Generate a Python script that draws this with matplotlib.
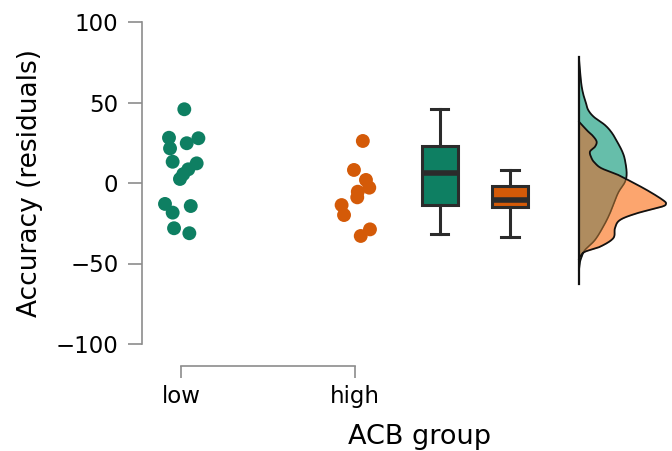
import numpy as np
import matplotlib
matplotlib.use("Agg")
import matplotlib.pyplot as plt

plt.rcParams['font.family'] = ['DejaVu Sans']

# ---- data ----
groups = ["low", "high"]
low_vals = [45.8, 28.1, 21.5, 24.7, 27.8, 13.2, 12.2, 8.5, 5.5, 2.5,
            -13.0, -18.4, -14.3, -28.1, -31.2]
high_vals = [26.1, 8.1, 1.9, -2.9, -5.4, -8.9, -13.7, -19.9, -28.8, -32.9]
# horizontal jitter (category units)
low_jitter = [0.019, -0.069, -0.063, 0.033, 0.100, -0.048, 0.090, 0.042,
              0.013, -0.006, -0.092, -0.048, 0.056, -0.040, 0.048]
high_jitter = [0.045, -0.006, 0.063, 0.082, 0.016, 0.013, -0.077, -0.063,
               0.086, 0.033]
# box statistics (whislo, q1, med, q3, whishi)
low_box = [-31.7, -13.7, 6.0, 23.0, 45.8]
high_box = [-33.3, -15.1, -10.6, -1.9, 8.1]
yticks = [-100, -50, 0, 50, 100]

# density profiles (value, relative density)
low_dens_v = [77.5, 70.2, 60.9, 54.7, 49.7, 45.3, 41.0, 36.0, 31.1, 24.8, 19.3,
              14.3, 6.2, 0.6, -6.4, -18.8, -27.1, -35.4, -41.6, -45.3, -49.1, -54.0]
low_dens_d = [0, 1, 2.5, 4.5, 7, 9.3, 15, 26, 33, 39, 43.5,
              46, 47.7, 46, 39, 31, 24.3, 16, 6, 3, 1, 0]
high_dens_v = [38.1, 35.4, 31.9, 29.2, 25.7, 22.5, 19.4, 15.3, 12.4, 9.1, 5.0, 2.9,
               -4.3, -10.6, -13.0, -14.9, -18.8, -23.0, -28.1, -34.3, -39.6, -42.7,
               -45.8, -47.2]
high_dens_d = [0, 4, 9.3, 14, 17.7, 16, 11, 12.7, 16, 22.7, 39.3, 46,
               67.7, 84, 87, 82, 58, 41, 36, 34.3, 21, 6,
               1, 0]

# ---- style ----
green = "#0E7F62"
orange = "#D45A08"
green_fill = "#66BEAA"
orange_fill = "#FCA56E"
overlap_fill = "#AF8C5F"
spine_col = "#8C8C8C"
box_edge = "#2B2B2B"

fig = plt.figure(figsize=(6.72, 4.51), dpi=100)
ax = fig.add_axes([142/672, 1-344/451, 1-142/672, (344-22)/451])

x_low, x_high = 1.0, 2.0
ax.scatter(x_low + np.array(low_jitter), low_vals, s=100, color=green,
           edgecolor='none', zorder=3, clip_on=False)
ax.scatter(x_high + np.array(high_jitter), high_vals, s=100, color=orange,
           edgecolor='none', zorder=3, clip_on=False)

# boxplots
def stats(b):
    return dict(whislo=b[0], q1=b[1], med=b[2], q3=b[3], whishi=b[4], fliers=[])

box_pos = [2.487, 2.89]
bp = ax.bxp([stats(low_box), stats(high_box)], positions=box_pos, widths=0.207,
            patch_artist=True, showfliers=False, capwidths=0.1,
            boxprops=dict(edgecolor=box_edge, linewidth=2.2),
            whiskerprops=dict(color=box_edge, linewidth=2.2),
            capprops=dict(color=box_edge, linewidth=2.2),
            medianprops=dict(color=box_edge, linewidth=4.0, solid_capstyle='butt'))
for patch, c in zip(bp['boxes'], [green, orange]):
    patch.set_facecolor(c)
for m in bp['medians']:
    m.set_zorder(4)

# densities (smoothed through the read points)
def smooth(v, d, n=16):
    P = np.column_stack([v, d]).astype(float)
    P = np.vstack([P[0], P, P[-1]])
    out = []
    t = np.linspace(0, 1, n, endpoint=False)[:, None]
    for i in range(1, len(P) - 2):
        p0, p1, p2, p3 = P[i - 1], P[i], P[i + 1], P[i + 2]
        seg = 0.5 * (2 * p1 + (-p0 + p2) * t + (2 * p0 - 5 * p1 + 4 * p2 - p3) * t ** 2
                     + (-p0 + 3 * p1 - 3 * p2 + p3) * t ** 3)
        out.append(seg)
    out.append(P[-2][None, :])
    out = np.vstack(out)
    out[:, 1] = np.clip(out[:, 1], 0, None)
    return out[:, 0], out[:, 1]

x0 = 3.287
px = 1 / 174.0
lv, ld = smooth(low_dens_v, low_dens_d)
hv, hd = smooth(high_dens_v, high_dens_d)
grid = np.linspace(-63, 78, 1500)
ol = np.argsort(lv)
oh = np.argsort(hv)
wl = np.interp(grid, lv[ol], ld[ol], left=0, right=0) * px
wh = np.interp(grid, hv[oh], hd[oh], left=0, right=0) * px
wm = np.minimum(wl, wh)
ax.fill_betweenx(grid, x0, x0 + wl, color=green_fill, linewidth=0, clip_on=False)
ax.fill_betweenx(grid, x0, x0 + wh, color=orange_fill, linewidth=0, clip_on=False)
ax.fill_betweenx(grid, x0, x0 + wm, color=overlap_fill, linewidth=0, clip_on=False)
# outlines
gl = np.where(wl >= wh - 1e-9, x0 + wl, np.nan)
gl_in = np.where(wl <= wh + 1e-9, x0 + wl, np.nan)
inside = (grid >= min(low_dens_v)) & (grid <= max(low_dens_v))
ax.plot(np.where(inside, gl_in, np.nan), grid, color='#6E4B26', lw=1.1, clip_on=False)
ax.plot(np.where(inside, gl, np.nan), grid, color='#111111', lw=1.3, clip_on=False)
insideh = (grid >= min(high_dens_v)) & (grid <= max(high_dens_v))
ax.plot(np.where(insideh, x0 + wh, np.nan), grid, color='#111111', lw=1.3, clip_on=False)
ax.plot([x0, x0], [-63, 78], color='#111111', lw=1.6, clip_on=False)

# axes
ax.set_ylim(-100, 100)
ax.set_xlim(1 - 39/174, 1 + 491/174)
ax.set_yticks(yticks)
ax.set_xticks([x_low, x_high])
ax.set_xticklabels(groups)
for s in ['top', 'right']:
    ax.spines[s].set_visible(False)
ax.spines['left'].set_color(spine_col)
ax.spines['left'].set_linewidth(1.2)
ax.spines['bottom'].set_color(spine_col)
ax.spines['bottom'].set_linewidth(1.2)
ax.spines['bottom'].set_position(('outward', 16))
ax.spines['bottom'].set_bounds(x_low, x_high)
ax.tick_params(axis='y', length=10, width=1.2, color=spine_col, pad=7, labelsize=16.5)
ax.tick_params(axis='x', length=8.5, width=1.2, color=spine_col, pad=5, labelsize=16.5)
ax.patch.set_alpha(0)

fig.text(30/672, 1-183/451, "Accuracy (residuals)", rotation=90, fontsize=19,
         ha='center', va='center')
fig.text(420/672, 1-437/451, "ACB group", fontsize=19.5, ha='center', va='center')

fig.savefig("out.png", dpi=100)
